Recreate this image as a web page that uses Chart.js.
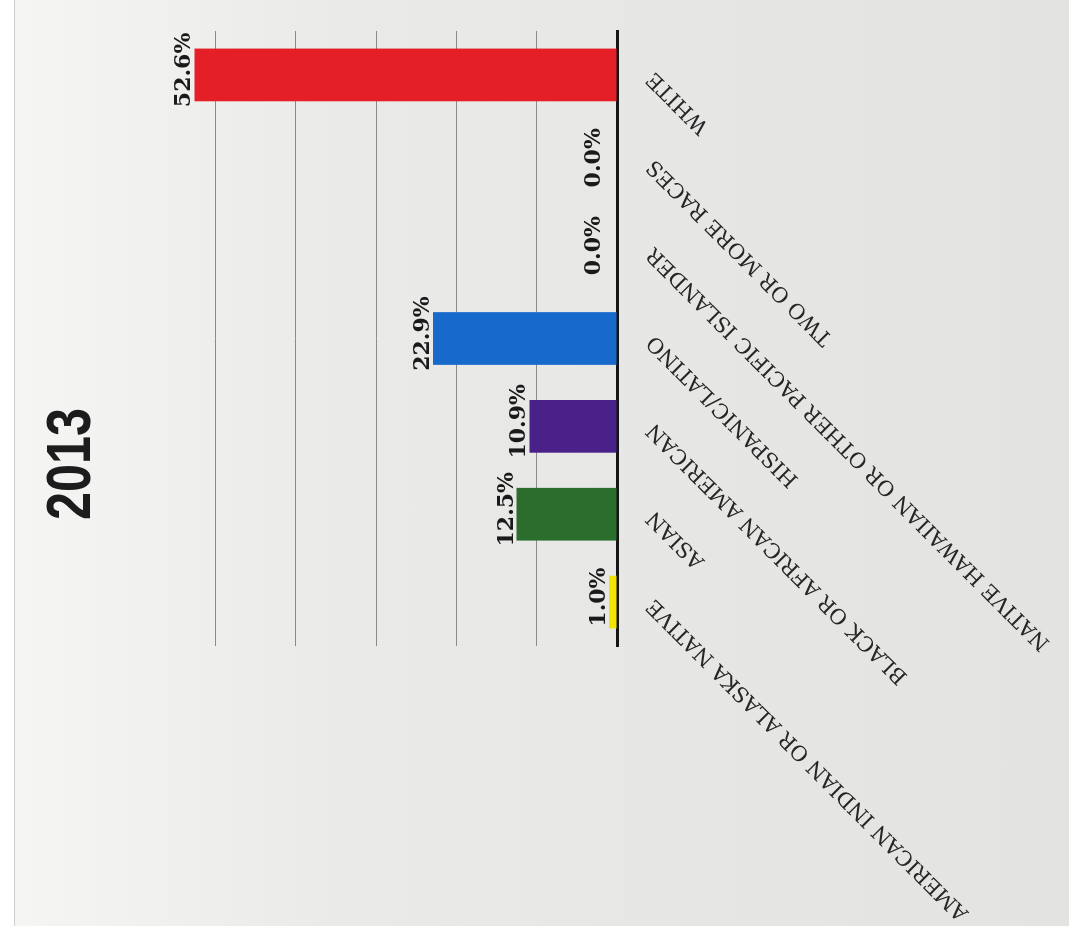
<!DOCTYPE html>
<html>
<head>
<meta charset="utf-8">
<script src="https://cdn.jsdelivr.net/npm/chart.js@4.4.1/dist/chart.umd.min.js"></script>
<style>
html,body{margin:0;padding:0;width:1081px;height:930px;overflow:hidden;background:#ffffff;}
#card{position:absolute;left:14px;top:0;width:1054px;height:926px;
  background:linear-gradient(to right,#f5f5f4 0px,#f1f1f0 120px,#eaebe9 320px,#e6e7e5 700px,#e3e4e2 100%);
  border-left:1px solid #cfcfcf;}
#wrap{position:absolute;left:0;top:0;width:930px;height:1081px;transform-origin:0 0;
  transform:translate(0,930px) rotate(-90deg);}
canvas{display:block;}
</style>
</head>
<body>
<div id="card"></div>
<div id="wrap"><canvas id="c" width="930" height="1081"></canvas></div>
<script>
const chartTitle = '2013';
const categories = [
  'AMERICAN INDIAN OR ALASKA NATIVE',
  'ASIAN',
  'BLACK OR AFRICAN AMERICAN',
  'HISPANIC/LATINO',
  'NATIVE HAWAIIAN OR OTHER PACIFIC ISLANDER',
  'TWO OR MORE RACES',
  'WHITE'
];
const values = [1.0, 12.5, 10.9, 22.9, 0.0, 0.0, 52.6];
const barColors = ['#f2e600', '#2b6d2c', '#4a2188', '#1769cc', '#cccccc', '#cccccc', '#e41f27'];
const valueTicks = [0, 10, 20, 30, 40, 50, 60];

// condensed bold title drawn centred above the plot
const narrowTitle = {
  id: 'narrowTitle',
  afterDraw(chart) {
    const ctx = chart.ctx;
    ctx.save();
    ctx.font = 'bold 63px "Liberation Sans"';
    ctx.fillStyle = '#1c1c1c';
    ctx.textAlign = 'center';
    ctx.textBaseline = 'alphabetic';
    ctx.translate(chart.width / 2 + 1, 90);
    ctx.scale(0.8, 1);
    ctx.fillText(chartTitle, 0, 0);
    ctx.restore();
  }
};

const valueLabels = {
  id: 'valueLabels',
  afterDatasetsDraw(chart) {
    const ctx = chart.ctx;
    const meta = chart.getDatasetMeta(0);
    ctx.save();
    ctx.font = 'bold 22px "DejaVu Serif"';
    ctx.fillStyle = '#1a1a1a';
    ctx.textAlign = 'center';
    ctx.textBaseline = 'alphabetic';
    meta.data.forEach((bar, i) => {
      const v = values[i];
      const gap = v === 0 ? 17 : 4;
      ctx.fillText(v.toFixed(1) + '%', bar.x + 5, bar.y - gap);
    });
    ctx.restore();
  }
};

function build() {
  new Chart(document.getElementById('c'), {
    type: 'bar',
    data: {
      labels: categories,
      datasets: [{
        data: values,
        backgroundColor: barColors,
        borderWidth: 0,
        barPercentage: 0.6,
        categoryPercentage: 1.0
      }]
    },
    options: {
      responsive: false,
      animation: false,
      devicePixelRatio: 1,
      layout: { padding: { left: 31, right: 31, top: 135, bottom: 0 } },
      plugins: {
        legend: { display: false },
        tooltip: { enabled: false },
        title: { display: false }
      },
      scales: {
        x: {
          type: 'category',
          position: 'bottom',
          z: 1,
          grid: { display: false, drawTicks: false },
          border: { display: true, color: '#151515', width: 3 },
          ticks: {
            autoSkip: false,
            minRotation: 45,
            maxRotation: 45,
            padding: 25,
            color: '#262626',
            font: { family: '"DejaVu Serif"', size: 21 }
          },
          afterFit(s) { s.height = 464; s.paddingLeft = 0; s.paddingRight = 0; }
        },
        y: {
          min: 0,
          max: 60,
          position: 'left',
          afterBuildTicks(s) { s.ticks = valueTicks.map(v => ({ value: v })); },
          ticks: { display: false },
          grid: {
            drawTicks: false,
            lineWidth: 1,
            color: c => (c.tick && c.tick.value > 0 && c.tick.value < 60) ? '#8a8a8a' : 'rgba(0,0,0,0)'
          },
          border: { display: false },
          afterFit(s) { s.width = 253; s.paddingTop = 0; s.paddingBottom = 0; }
        }
      }
    },
    plugins: [valueLabels, narrowTitle]
  });
}

Promise.all([
  document.fonts.load('21px "DejaVu Serif"'),
  document.fonts.load('bold 22px "DejaVu Serif"'),
  document.fonts.load('bold 63px "Liberation Sans"')
]).then(build, build);
</script>
</body>
</html>
